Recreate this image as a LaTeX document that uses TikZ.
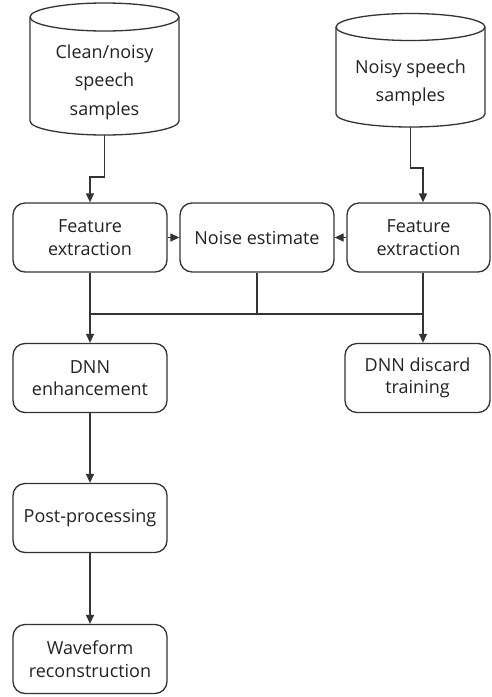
\documentclass[tikz,border=0pt]{standalone}
\usepackage{fontspec}
\setmainfont{Open Sans}
\usetikzlibrary{arrows.meta}
\definecolor{linec}{HTML}{333333}
\definecolor{txtc}{HTML}{222222}
\begin{document}
\begin{tikzpicture}[x=1pt,y=-1pt,
  line/.style={draw=linec, line width=1.3pt},
  arr/.style={line, -{Triangle[length=9pt,width=8pt]}},
  proc/.style={line, rounded corners=12pt, minimum width=154pt, minimum height=69pt,
    align=center, text=txtc, font=\fontsize{18}{22.5}\selectfont, inner sep=0pt},
  cyltext/.style={align=center, text=txtc, font=\fontsize{18}{28.5}\selectfont, inner sep=0pt}]
\useasboundingbox (0,0) rectangle (491,697);
% left cylinder
\draw[line, fill=white] (30,17) -- (30,121) arc[start angle=180,end angle=0,x radius=74.5,y radius=14] -- (179,17);
\draw[line] (104.5,17) ellipse[x radius=74.5,y radius=14];
\node[cyltext] (cylL) at (104.5,82) {Clean/noisy\\speech\\samples};
\coordinate (cylLb) at (104.5,135);
% right cylinder
\draw[line, fill=white] (336,27) -- (336,114) arc[start angle=180,end angle=0,x radius=74.5,y radius=13] -- (485,27);
\draw[line] (410.5,27) ellipse[x radius=74.5,y radius=13.5];
\node[cyltext] (cylR) at (410.5,83) {Noisy speech\\samples};
\coordinate (cylRb) at (410.5,127);
% boxes
\node[proc] (fe1) at (90,237.5) {Feature\\extraction};
\node[proc] (ne) at (257,237.5) {Noise estimate};
\node[proc, minimum width=143pt] (fe2) at (418.5,237.5) {Feature\\extraction};
\node[proc] (dnn1) at (90,378) {DNN\\enhancement};
\node[proc, minimum width=145pt] (dnn2) at (417.5,378) {DNN discard\\training};
\node[proc] (post) at (90,518) {Post-processing};
\node[proc] (wave) at (90,659) {Waveform\\reconstruction};
% connectors
\draw[arr] (cylLb) -- ++(0,42) -| (fe1.north);
\draw[arr] (cylRb) -- ++(0,41) -| ([xshift=4.5pt]fe2.north);
\draw[arr] (fe1.east) -- (ne.west);
\draw[arr] (fe2.west) -- (ne.east);
\draw[arr] (fe1.south) -- (dnn1.north);
\draw[arr] ([xshift=4.5pt]fe2.south) -- ([xshift=5.5pt]dnn2.north);
\coordinate (j) at (257,314);
\draw[line] (ne.south) -- (j);
\draw[line] (fe1.south |- j) -- ([xshift=4.5pt]fe2.south |- j);
\draw[arr] (dnn1.south) -- (post.north);
\draw[arr] (post.south) -- (wave.north);
\end{tikzpicture}
\end{document}
